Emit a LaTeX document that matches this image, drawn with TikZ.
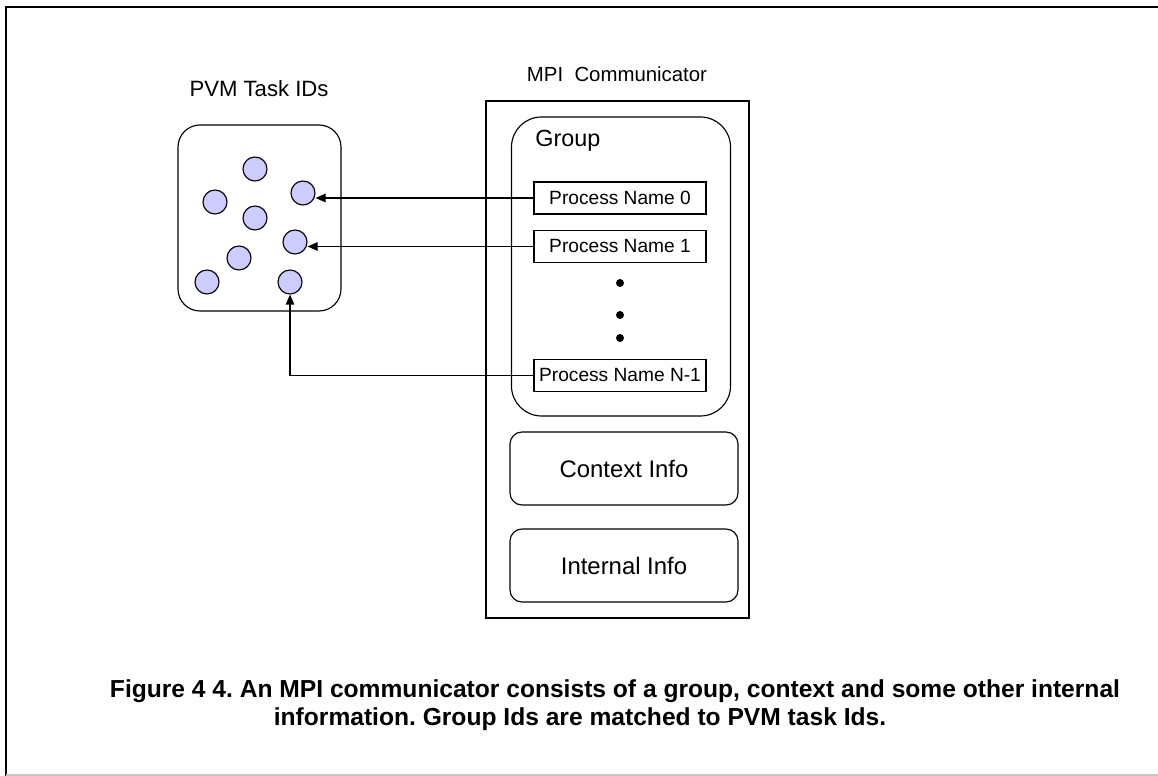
\documentclass[tikz,border=0pt]{standalone}
\usepackage{fontspec}
\setmainfont{Liberation Sans}
\usetikzlibrary{arrows.meta}
\frenchspacing
\begin{document}
\begin{tikzpicture}[x=0.02cm, y=-0.02cm,
  thinline/.style={line width=0.65pt},
  task/.style={circle, draw, thinline, fill=taskfill, minimum size=24*0.02cm, inner sep=0pt},
  procbox/.style={draw, thinline, minimum width=172*0.02cm, minimum height=32*0.02cm, inner sep=0pt,
    font=\fontsize{10.9}{13}\selectfont},
  infobox/.style={draw, thinline, rounded corners=12*0.02cm, minimum width=228*0.02cm, minimum height=73*0.02cm,
    inner sep=0pt, font=\fontsize{13.6}{16}\selectfont},
  lbl/.style={inner sep=0pt, font=\fontsize{12.4}{15}\selectfont},
  link/.style={thinline, -{Triangle[length=0.2cm, width=0.17cm]}},
  caption/.style={inner sep=0pt, font=\fontsize{14}{16}\selectfont\bfseries}]
\definecolor{taskfill}{RGB}{204,204,255}
\useasboundingbox (0,0) rectangle (1158,776);
% page frame
\draw[line width=1.4pt] (1170,7) -- (6,7) -- (6,780);
\draw[gray!45, line width=0.8pt] (6,775) -- (1170,775);

% PVM task pool
\node[lbl, font=\fontsize{12.6}{15}\selectfont] (pvmlbl) at (259,89) {PVM Task IDs};
\node[draw, thinline, rounded corners=22*0.02cm, minimum width=163*0.02cm, minimum height=186*0.02cm, inner sep=0pt]
  (pool) at (259.5,218) {};
\node[task] (c1) at (255,169) {};
\node[task] (c2) at (215,202) {};
\node[task] (c3) at (303,193) {};
\node[task] (c4) at (255,218) {};
\node[task] (c5) at (295,242) {};
\node[task] (c6) at (239,258) {};
\node[task] (c7) at (207,282) {};
\node[task] (c8) at (290,282) {};

% MPI communicator
\node[lbl, font=\fontsize{11.6}{14}\selectfont] (mpilbl) at (617,74) {MPI\ \ Communicator};
\node[draw, thinline, minimum width=263*0.02cm, minimum height=517*0.02cm, inner sep=0pt]
  (comm) at (617.5,359.5) {};
\node[draw, thinline, rounded corners=30*0.02cm, minimum width=219*0.02cm, minimum height=299*0.02cm, inner sep=0pt]
  (group) at (621,266.5) {};
\node[lbl, anchor=west, font=\fontsize{13.3}{16}\selectfont] (grouplbl) at (535,141) {Group};
\node[procbox] (pn0) at (620,198) {Process Name 0};
\node[procbox] (pn1) at (620,246.5) {Process Name 1};
\node[procbox] (pnN) at (620,375.5) {Process Name N-1};
\foreach \y [count=\i] in {283,315,338}
  \node[circle, fill=black, minimum size=8*0.02cm, inner sep=0pt] (dot\i) at (620,\y) {};
\node[infobox] (ctx) at (624,468.5) {Context Info};
\node[infobox] (intl) at (624,565.5) {Internal Info};

% group entries mapped onto task ids
\draw[link] (pn0.west) -- (pn0.west -| c3.east);
\draw[link] (pn1.west) -- (pn1.west -| c5.east);
\draw[link] (pnN.west) -| (c8.south);

% caption
\node[caption] (cap1) at (615,691) {Figure 4 4. An MPI communicator consists of a group, context and some other internal};
\node[caption] (cap2) at (580,719) {information. Group Ids are matched to PVM task Ids.};
\end{tikzpicture}
\end{document}
